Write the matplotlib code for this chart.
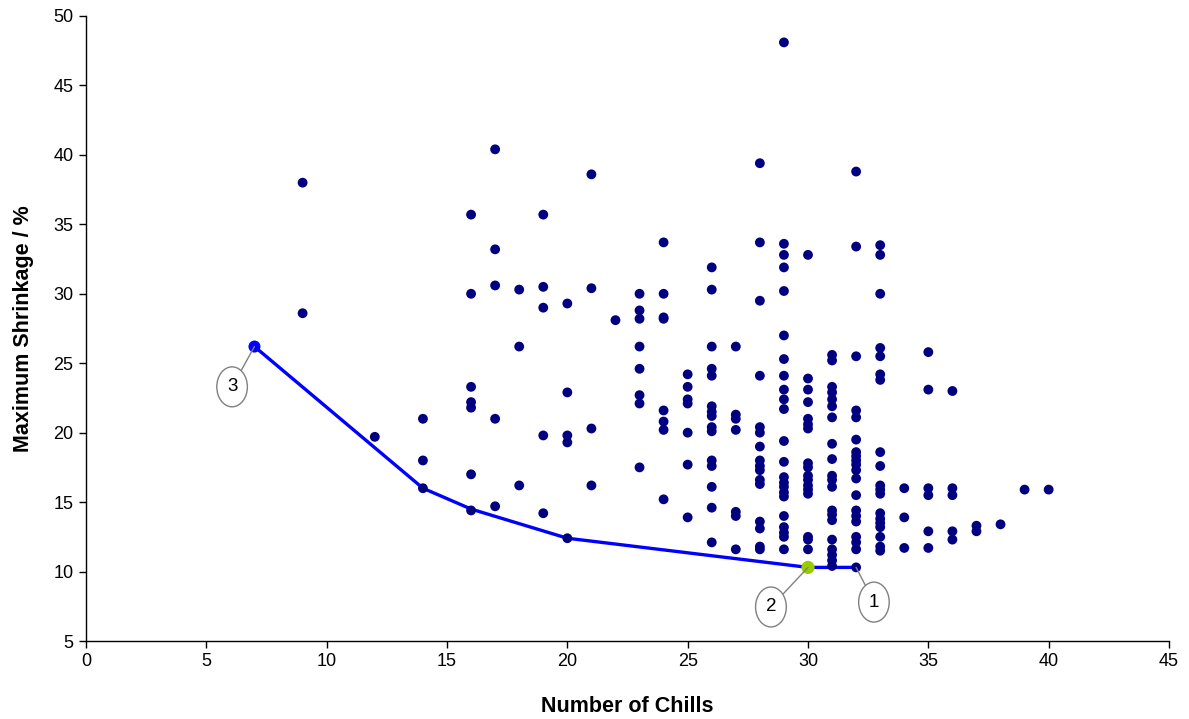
import matplotlib
matplotlib.use("Agg")
import matplotlib.pyplot as plt

plt.rcParams['font.family'] = ['Liberation Sans', 'DejaVu Sans']

# Scatter data: number of chills vs maximum shrinkage (%)
chills = (
    [7] + [9] * 2 + [12] + [14] * 3
    + [16] * 7 + [17] * 5 + [18] * 3 + [19] * 5 + [20] * 5 + [21] * 4 + [22]
    + [23] * 8 + [24] * 8 + [25] * 7 + [26] * 15 + [27] * 7 + [28] * 16
    + [29] * 23 + [30] * 18 + [31] * 20 + [32] * 20 + [33] * 19
    + [34] * 3 + [35] * 6 + [36] * 5 + [37] * 2 + [38] + [39] + [40]
)
shrinkage = (
    [26.2]
    + [38.0, 28.6]
    + [19.7]
    + [21.0, 18.0, 16.0]
    + [35.7, 30.0, 23.3, 22.2, 21.8, 17.0, 14.4]
    + [40.4, 33.2, 30.6, 21.0, 14.7]
    + [30.3, 26.2, 16.2]
    + [35.7, 30.5, 29.0, 19.8, 14.2]
    + [29.3, 22.9, 19.8, 19.3, 12.4]
    + [38.6, 30.4, 20.3, 16.2]
    + [28.1]
    + [30.0, 28.8, 28.2, 26.2, 24.6, 22.7, 22.1, 17.5]
    + [33.7, 30.0, 28.3, 28.2, 21.6, 20.8, 20.2, 15.2]
    + [24.2, 23.3, 22.4, 22.1, 20.0, 17.7, 13.9]
    + [31.9, 30.3, 26.2, 24.6, 24.1, 21.9, 21.5, 21.2, 20.4, 20.1, 18.0, 17.6, 16.1, 14.6, 12.1]
    + [26.2, 21.3, 21.0, 20.2, 14.3, 14.0, 11.6]
    + [39.4, 33.7, 29.5, 24.1, 20.4, 20.0, 19.0, 18.0, 17.6, 17.3, 16.6, 16.3, 13.6, 13.1, 11.8, 11.6]
    + [48.1, 33.6, 32.8, 31.9, 30.2, 27.0, 25.3, 24.1, 23.1, 22.4, 21.7, 19.4, 17.9, 16.8,
       16.4, 16.1, 15.7, 15.4, 14.0, 13.2, 12.8, 12.5, 11.6]
    + [32.8, 23.9, 23.1, 22.2, 21.0, 20.6, 20.3, 17.8, 17.5, 16.9, 16.6, 16.2, 15.9, 15.6,
       12.5, 12.3, 11.6, 10.3]
    + [25.6, 25.2, 23.3, 22.9, 22.4, 21.9, 21.1, 19.2, 18.1, 16.9, 16.6, 16.1, 14.4, 14.1,
       13.7, 12.3, 11.6, 11.2, 10.8, 10.4]
    + [38.8, 33.4, 25.5, 21.6, 21.1, 19.5, 18.6, 18.3, 18.0, 17.7, 17.3, 16.7, 15.5, 14.4,
       14.0, 13.6, 12.5, 12.1, 11.6, 10.3]
    + [33.5, 32.8, 30.0, 26.1, 25.5, 24.2, 23.8, 18.6, 17.6, 16.2, 15.9, 15.6, 14.2, 13.8,
       13.5, 13.2, 12.5, 11.8, 11.5]
    + [16.0, 13.9, 11.7]
    + [25.8, 23.1, 16.0, 15.5, 12.9, 11.7]
    + [23.0, 16.0, 15.5, 12.9, 12.3]
    + [13.3, 12.9]
    + [13.4]
    + [15.9]
    + [15.9]
)

# Lower frontier line
front_x = [7, 14, 16, 20, 30, 32]
front_y = [26.2, 16.0, 14.5, 12.4, 10.3, 10.3]

# Labelled points
labels = ['3', '2', '1']
label_pts_x = [7, 30, 32]
label_pts_y = [26.2, 10.3, 10.3]
label_pos_x = [6.07, 28.46, 32.74]
label_pos_y = [23.3, 7.45, 7.8]

fig = plt.figure(figsize=(11.89, 7.19), dpi=100)
ax = fig.add_axes([86 / 1189, 1 - 641 / 719, (1169 - 86) / 1189, (641 - 16) / 719])

ax.plot(front_x, front_y, color='#0000FF', lw=2.4, zorder=2)
ax.scatter(chills, shrinkage, s=50, color='#000080', edgecolors='none', zorder=3)
ax.scatter([7], [26.2], s=75, color='#0000FF', edgecolors='none', zorder=4)
ax.scatter([30], [10.3], s=90, color='#99CC00', edgecolors='none', zorder=4)

for lab, px, py, lx, ly in zip(labels, label_pts_x, label_pts_y, label_pos_x, label_pos_y):
    ax.annotate(lab, xy=(px, py), xytext=(lx, ly), ha='center', va='center', fontsize=13.5,
                bbox=dict(boxstyle='ellipse,pad=0.3', fc='white', ec='#808080', lw=1),
                arrowprops=dict(arrowstyle='-', color='#808080', lw=1, shrinkA=0, shrinkB=0),
                zorder=5)

ax.set_xlim(0, 45)
ax.set_ylim(5, 50)
ax.set_xticks(range(0, 46, 5))
ax.set_yticks(range(5, 51, 5))
ax.spines['top'].set_visible(False)
ax.spines['right'].set_visible(False)
for s in ('left', 'bottom'):
    ax.spines[s].set_color('black')
    ax.spines[s].set_linewidth(1)
ax.tick_params(direction='out', length=5, width=1, labelsize=13, pad=4)

ax.set_xlabel('Number of Chills', fontsize=15.5, fontweight='bold', labelpad=18)
ax.set_ylabel('Maximum Shrinkage / %', fontsize=15.5, fontweight='bold', labelpad=14)

fig.savefig('out.png', dpi=100)
